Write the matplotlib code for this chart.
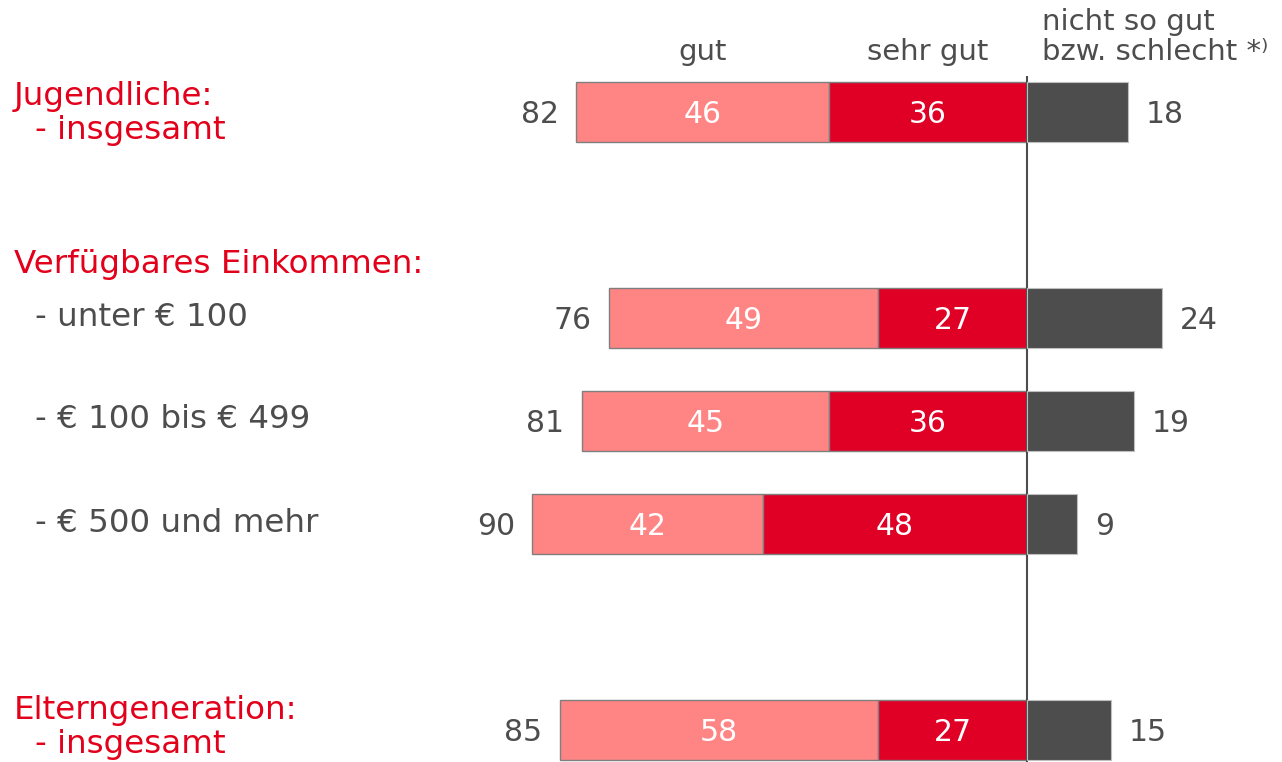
import matplotlib.pyplot as plt

# Werte (Prozent)
gut = [46, 49, 45, 42, 58]
sehr_gut = [36, 27, 36, 48, 27]
schlecht = [18, 24, 19, 9, 15]
gesamt = [82, 76, 81, 90, 85]

row_pos = [0, 2, 3, 4, 6]   # Zeilenpositionen inkl. Lücken

C_PINK = '#FF8585'
C_RED = '#E00025'
C_DARK = '#4D4D4D'
C_TEXT = '#4D4D4D'
C_LABEL = '#E2001A'

W, H = 1282, 762
X0 = 1026.5        # Nulllinie in px
Y0, DY = 112, 103  # erste Zeile / Zeilenabstand in px
SC_L, SC_R = 5.49, 5.66

fig = plt.figure(figsize=(W / 100, H / 100), dpi=100)
ax = fig.add_axes([0, 0, 1, 1])
ax2 = fig.add_axes([0, 0, 1, 1])
for a in (ax, ax2):
    a.set_ylim((H - Y0) / DY, -Y0 / DY)
    a.axis('off')
ax.set_xlim(-X0 / SC_L, (W - X0) / SC_L)
ax2.set_xlim(-X0 / SC_R, (W - X0) / SC_R)
ax2.patch.set_alpha(0)

bh = 0.585
neg_gut = [-(g + s) for g, s in zip(gut, sehr_gut)]
neg_sg = [-s for s in sehr_gut]
ax.barh(row_pos, gut, left=neg_gut, height=bh, color=C_PINK, edgecolor='#7F7F7F', linewidth=1)
ax.barh(row_pos, sehr_gut, left=neg_sg, height=bh, color=C_RED, edgecolor='#7F7F7F', linewidth=1)
ax2.barh(row_pos, schlecht, height=bh, color=C_DARK, edgecolor='#BFBFBF', linewidth=0.8)

fs = 21.5
for y, g, s, t, n in zip(row_pos, gut, sehr_gut, gesamt, schlecht):
    ax.text(-s - g / 2, y + 0.02, str(g), color='white', ha='center', va='center', fontsize=fs)
    ax.text(-s / 2, y + 0.02, str(s), color='white', ha='center', va='center', fontsize=fs)
    ax.annotate(str(t), (-t, y + 0.02), xytext=(-12.5, 0), textcoords='offset points',
                ha='right', va='center', fontsize=fs, color=C_TEXT)
    ax2.annotate(str(n), (n, y + 0.02), xytext=(12.5, 0), textcoords='offset points',
                 ha='left', va='center', fontsize=fs, color=C_TEXT)

# Nulllinie
ax.vlines(0, (76 - Y0) / DY, (H - Y0) / DY, color='#4D4D4D', linewidth=1.5, zorder=5)

# Spaltenköpfe
hy = -0.58
ax.text(-sehr_gut[0] - gut[0] / 2, hy, 'gut', ha='center', va='center', fontsize=21, color=C_TEXT)
ax.text(-sehr_gut[0] / 2, hy, 'sehr gut', ha='center', va='center', fontsize=21, color=C_TEXT)
fig.text(1042 / W, 1 - 22 / H, 'nicht so gut', ha='left', va='center', fontsize=21, color=C_TEXT)
fig.text(1042 / W, 1 - 52 / H, 'bzw. schlecht *\u207e', ha='left', va='center', fontsize=21, color=C_TEXT)

# Zeilenbeschriftungen
labels = [
    ('Jugendliche:', 14, 97, C_LABEL),
    ('- insgesamt', 35, 131, C_LABEL),
    ('Verfügbares Einkommen:', 14, 265, C_LABEL),
    ('- unter € 100', 35, 318, C_TEXT),
    ('- € 100 bis € 499', 35, 420, C_TEXT),
    ('- € 500 und mehr', 35, 523, C_TEXT),
    ('Elterngeneration:', 14, 710, C_LABEL),
    ('- insgesamt', 35, 745, C_LABEL),
]
for txt, x, y, c in labels:
    fig.text(x / W, 1 - y / H, txt, ha='left', va='center', fontsize=23.4, color=c)

fig.savefig('out.png', dpi=100)
